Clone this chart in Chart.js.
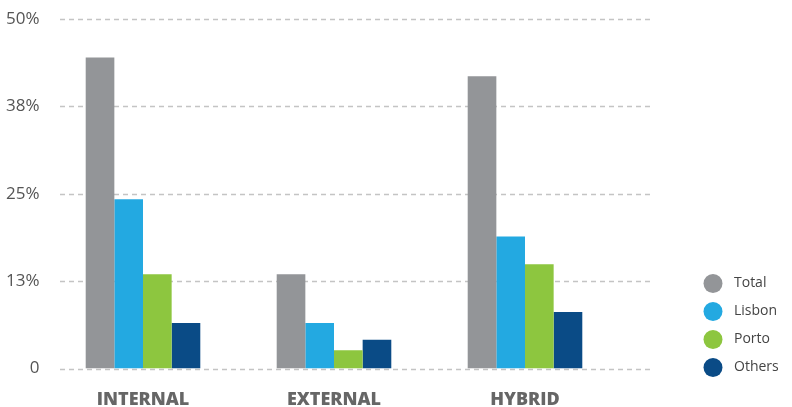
<!DOCTYPE html>
<html>
<head>
<meta charset="utf-8">
<script src="https://cdn.jsdelivr.net/npm/chart.js@4"></script>
<style>
  html, body { margin: 0; padding: 0; background: #fff; }
  #wrap { width: 792px; height: 407px; position: relative; }
</style>
</head>
<body>
<div id="wrap"><canvas id="modelChart"></canvas></div>
<script>
const categories = ["INTERNAL", "EXTERNAL", "HYBRID"];
const seriesNames = ["Total", "Lisbon", "Porto", "Others"];
const totalValues = [44.5, 13.5, 41.8];
const lisbonValues = [24.2, 6.5, 18.9];
const portoValues = [13.5, 2.6, 14.9];
const othersValues = [6.5, 4.1, 8.1];
const tickLabels = ["0", "13%", "25%", "38%", "50%"];
const colors = ["#939598", "#23a9e1", "#8dc63f", "#0a4b86"];

// dashed grid lines that run a bit past the bars on the right
const dashedGrid = {
    id: "dashedGrid",
    beforeDatasetsDraw(chart) {
        const y = chart.scales.y;
        const ctx = chart.ctx;
        const left = chart.chartArea.left + 12.5;
        const right = chart.chartArea.right + 29.5;
        ctx.save();
        ctx.strokeStyle = "#c4c4c4";
        ctx.lineWidth = 1.5;
        ctx.setLineDash([5, 4]);
        y.ticks.forEach(t => {
            const py = Math.round(y.getPixelForValue(t.value)) + 0.5;
            ctx.beginPath();
            ctx.moveTo(left, py);
            ctx.lineTo(right, py);
            ctx.stroke();
        });
        ctx.restore();
    }
};

const dotLegend = {
    id: "dotLegend",
    afterDraw(chart) {
        const ctx = chart.ctx;
        ctx.save();
        ctx.font = "14px 'Open Sans'";
        ctx.textBaseline = "middle";
        chart.data.datasets.forEach((ds, i) => {
            const cy = 283.5 + i * 28;
            ctx.fillStyle = ds.backgroundColor;
            ctx.beginPath();
            ctx.arc(713, cy, 9.5, 0, Math.PI * 2);
            ctx.fill();
            ctx.fillStyle = "#444";
            ctx.fillText(ds.label, 734, cy);
        });
        ctx.restore();
    }
};

const seriesValues = [totalValues, lisbonValues, portoValues, othersValues];

new Chart(document.getElementById("modelChart"), {
    type: "bar",
    data: {
        labels: categories,
        datasets: seriesNames.map((name, i) => ({
            label: name,
            data: seriesValues[i],
            backgroundColor: colors[i],
            categoryPercentage: 0.6,
            barPercentage: 1.0
        }))
    },
    options: {
        responsive: true,
        maintainAspectRatio: false,
        animation: false,
        layout: { padding: { top: 19, right: 171.5, left: 0, bottom: 0 } },
        plugins: {
            legend: { display: false },
            tooltip: { enabled: false }
        },
        scales: {
            x: {
                grid: { display: false },
                border: { display: false },
                ticks: {
                    color: "#666",
                    padding: 13,
                    font: { family: "'Open Sans'", size: 18, weight: "800" }
                },
                afterFit(scale) { scale.height = 38.5; }
            },
            y: {
                min: 0,
                max: 50,
                grid: { display: false },
                border: { display: false },
                ticks: {
                    stepSize: 12.5,
                    padding: 0,
                    color: "#555",
                    font: { family: "'Open Sans'", size: 17 },
                    callback: (v, i) => tickLabels[i]
                },
                afterFit(scale) { scale.width = 47.5; }
            }
        }
    },
    plugins: [dashedGrid, dotLegend]
});
</script>
</body>
</html>
